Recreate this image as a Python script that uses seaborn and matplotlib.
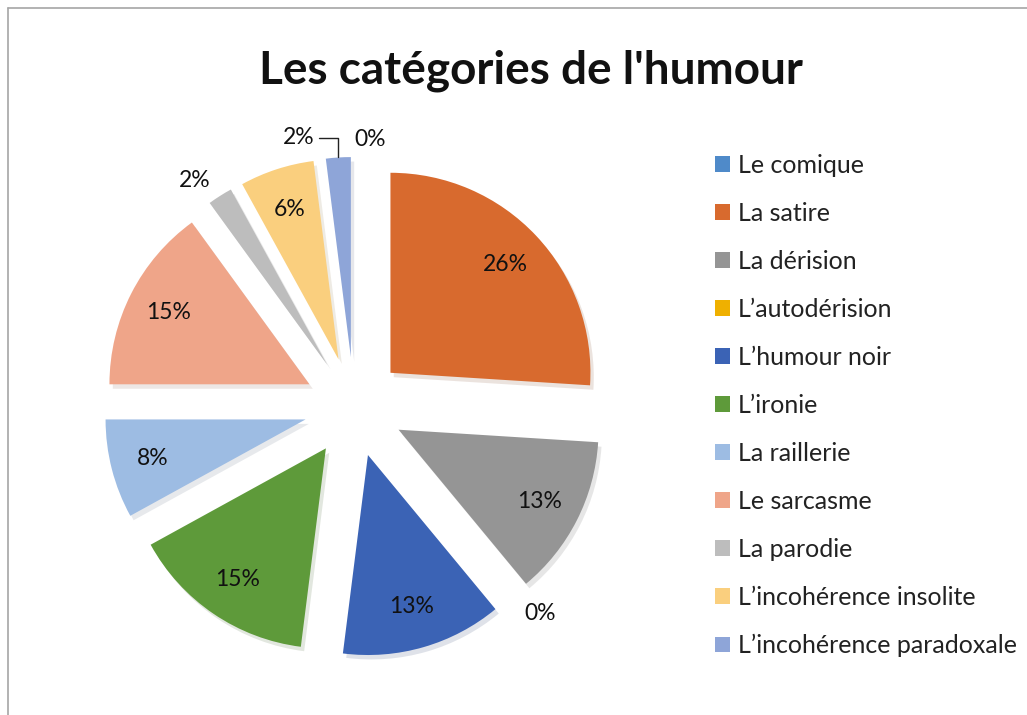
import numpy as np
import matplotlib
matplotlib.use("Agg")
import matplotlib.pyplot as plt
from matplotlib.lines import Line2D
import seaborn as sns

# Données du graphique
categories = ["Le comique", "La satire", "La dérision", "L’autodérision",
              "L’humour noir", "L’ironie", "La raillerie", "Le sarcasme",
              "La parodie", "L’incohérence insolite", "L’incohérence paradoxale"]
pourcentages = [0, 26, 13, 0, 13, 15, 8, 15, 2, 6, 2]
etiquettes = ["0%", "26%", "13%", "0%", "13%", "15%", "8%", "15%", "2%", "6%", "2%"]
couleurs = ["#4F8AC9", "#D86A2E", "#959595", "#EFB000", "#3B63B5", "#5E9A3A",
            "#9DBCE3", "#EFA589", "#BDBDBD", "#FACF7E", "#8EA5D8"]
titre = "Les catégories de l'humour"

W, H = 1027, 715
sns.set_theme(style="white")
plt.rcParams["font.family"] = ["Lato", "DejaVu Sans"]

fig = plt.figure(figsize=(W / 100, H / 100), dpi=100)
fig.patch.set_facecolor("white")

# axe du camembert : centre (354, 407) px, rayon 200 px
cx, cy, R = 354, 407, 200
ax = fig.add_axes([(cx - 300) / W, (H - cy - 300) / H, 600 / W, 600 / H])

valeurs = [max(v, 1e-9) for v in pourcentages]
wedges, _ = ax.pie(valeurs, colors=couleurs, startangle=90, counterclock=False,
                   explode=[0.25] * len(valeurs), radius=1.0,
                   wedgeprops={"linewidth": 0},
                   shadow={"ox": 0.012, "oy": -0.016, "shade": 0.45, "alpha": 0.14})
ax.set_xlim(-1.5, 1.5)
ax.set_ylim(-1.5, 1.5)
ax.axis("off")

TAILLE_ETIQ = 16.5
for i, w in enumerate(wedges):
    ang = np.deg2rad((w.theta1 + w.theta2) / 2)
    ux, uy = np.cos(ang), np.sin(ang)
    x0, y0 = w.center
    if pourcentages[i] >= 5:
        ax.text(x0 + 0.79 * ux, y0 + 0.79 * uy, etiquettes[i], ha="center",
                va="center", fontsize=TAILLE_ETIQ, color="#111111")
    elif i == len(wedges) - 1:
        # étiquette avec ligne de rappel
        ax.annotate(etiquettes[i], xy=(x0 + 1.0 * ux, y0 + 1.0 * uy),
                    xytext=(x0 + 1.0 * ux - 0.12, y0 + 1.1 * uy),
                    ha="right", va="center", fontsize=TAILLE_ETIQ, color="#111111",
                    arrowprops=dict(arrowstyle="-", color="#222222", lw=1,
                                    shrinkA=1, shrinkB=0,
                                    connectionstyle="angle,angleA=0,angleB=90,rad=0"))
    else:
        ha = "left" if ux >= -1e-6 else "right"
        ax.text(x0 + 1.09 * ux, y0 + 1.09 * uy, etiquettes[i], ha=ha,
                va="center", fontsize=TAILLE_ETIQ, color="#111111")

fig.text(531 / W, 1 - 71 / H, titre, ha="center", va="center",
         fontsize=33, fontweight="bold", color="#111111")

leg = fig.legend(wedges, categories, loc="upper left",
                 bbox_to_anchor=(705 / W, 1 - 144 / H), frameon=False,
                 fontsize=18, handlelength=0.6, handleheight=0.6,
                 handletextpad=0.3, labelspacing=1.0, borderaxespad=0)
for t in leg.get_texts():
    t.set_color("#222222")

# bordure de la zone du graphique
fig.add_artist(Line2D([8 / W, 1.0], [1 - 8 / H, 1 - 8 / H], color="#A6A6A6", lw=1.2))
fig.add_artist(Line2D([8 / W, 8 / W], [0, 1 - 8 / H], color="#A6A6A6", lw=1.2))

fig.savefig("out.png", dpi=100, facecolor="white")
